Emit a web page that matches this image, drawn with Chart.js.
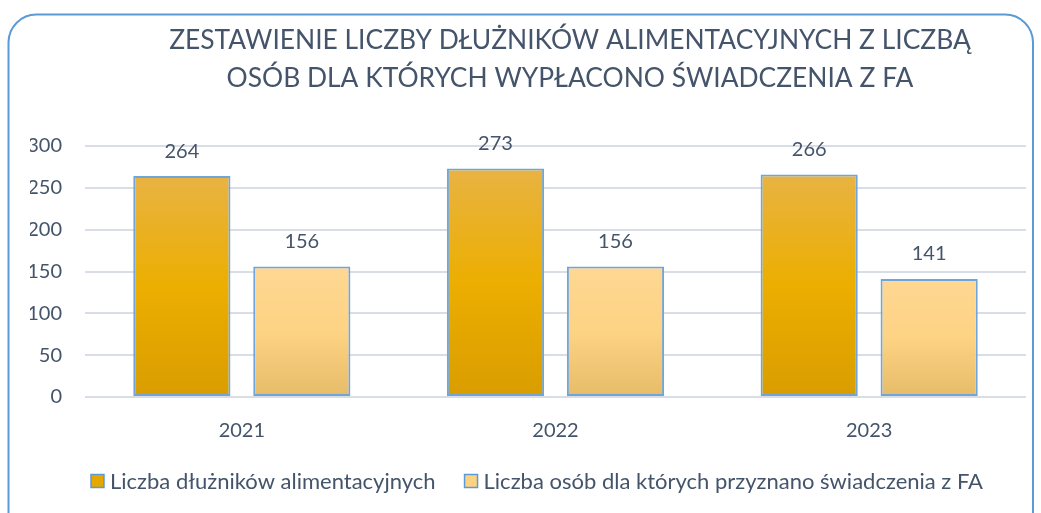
<!DOCTYPE html>
<html>
<head>
<meta charset="utf-8">
<script src="https://cdn.jsdelivr.net/npm/chart.js@4.4.1/dist/chart.umd.min.js"></script>
<style>
  html, body { margin: 0; padding: 0; background: #ffffff; }
  #wrap { position: relative; width: 1041px; height: 513px; }
</style>
</head>
<body>
<div id="wrap"><canvas id="c" width="1041" height="513"></canvas></div>
<script>
const titleLines = ['ZESTAWIENIE LICZBY DŁUŻNIKÓW ALIMENTACYJNYCH Z LICZBĄ', 'OSÓB DLA KTÓRYCH WYPŁACONO ŚWIADCZENIA Z FA'];
const categories = ['2021', '2022', '2023'];
const seriesNames = ['Liczba dłużników alimentacyjnych', 'Liczba osób dla których przyznano świadczenia z FA'];
const debtors = [264, 273, 266];
const beneficiaries = [156, 156, 141];
const yTicks = [0, 50, 100, 150, 200, 250, 300];

const TEXT = '#44546a';
const FONT = 'Lato, "Open Sans", sans-serif';
const stopsA = ['#e8b343', '#ecae00', '#d99d00'];
const stopsB = ['#fed792', '#fdd384', '#e6bc69'];
const solidA = '#e6a800';
const solidB = '#fdd282';

function barGradient(stops) {
  return function (ctx) {
    const chart = ctx.chart;
    if (!chart.chartArea || ctx.type !== 'data') return stops[1];
    const y = chart.scales.y;
    const top = y.getPixelForValue(ctx.raw);
    const bottom = y.getPixelForValue(0);
    if (!isFinite(top) || bottom - top < 1) return stops[1];
    const g = chart.ctx.createLinearGradient(0, top, 0, bottom);
    g.addColorStop(0, stops[0]);
    g.addColorStop(0.5, stops[1]);
    g.addColorStop(1, stops[2]);
    return g;
  };
}

const framePlugin = {
  id: 'frame',
  beforeDraw(chart) {
    const c = chart.ctx;
    c.save();
    c.strokeStyle = '#5b9bd5';
    c.lineWidth = 2;
    const x0 = 8.5, y0 = 14.5, x1 = 1033, y1 = 560, r = 28;
    c.beginPath();
    c.moveTo(x0, y1);
    c.lineTo(x0, y0 + r);
    c.arcTo(x0, y0, x0 + r, y0, r);
    c.lineTo(x1 - r, y0);
    c.arcTo(x1, y0, x1, y0 + r, r);
    c.lineTo(x1, y1);
    c.stroke();
    c.restore();
  }
};

const titlePlugin = {
  id: 'customTitle',
  afterDraw(chart) {
    const c = chart.ctx;
    c.save();
    c.fillStyle = TEXT;
    c.font = '26.4px ' + FONT;
    c.textAlign = 'center';
    c.textBaseline = 'alphabetic';
    c.fillText(titleLines[0], 570, 49);
    c.fillText(titleLines[1], 570, 87);
    c.restore();
  }
};

const valueLabels = {
  id: 'valueLabels',
  afterDatasetsDraw(chart) {
    const c = chart.ctx;
    c.save();
    c.fillStyle = TEXT;
    c.font = '20px ' + FONT;
    c.textAlign = 'center';
    c.textBaseline = 'middle';
    chart.data.datasets.forEach((ds, i) => {
      chart.getDatasetMeta(i).data.forEach((bar, j) => {
        c.fillText(String(ds.data[j]), bar.x, bar.y - 25);
      });
    });
    c.restore();
  }
};

const legendPlugin = {
  id: 'customLegend',
  afterDraw(chart) {
    const c = chart.ctx;
    c.save();
    c.font = '22px ' + FONT;
    c.textBaseline = 'middle';
    const box = 13, gapText = 6, gapItem = 29;
    const widths = seriesNames.map(n => c.measureText(n).width);
    const total = widths.reduce((a, w) => a + box + gapText + w, 0) + gapItem * (seriesNames.length - 1);
    let x = 537 - total / 2;
    const y = 481;
    const fills = [solidA, solidB];
    seriesNames.forEach((n, i) => {
      c.fillStyle = fills[i];
      c.fillRect(x, y - box / 2, box, box);
      c.strokeStyle = '#5b9bd5';
      c.lineWidth = 1.5;
      c.strokeRect(x, y - box / 2, box, box);
      c.fillStyle = TEXT;
      c.textAlign = 'left';
      c.fillText(n, x + box + gapText, y + 1);
      x += box + gapText + widths[i] + gapItem;
    });
    c.restore();
  }
};

new Chart(document.getElementById('c'), {
  type: 'bar',
  data: {
    labels: categories,
    datasets: [
      { label: seriesNames[0], data: debtors, backgroundColor: barGradient(stopsA), borderColor: '#6fa6da', borderWidth: 2, borderSkipped: false },
      { label: seriesNames[1], data: beneficiaries, backgroundColor: barGradient(stopsB), borderColor: '#6fa6da', borderWidth: 2, borderSkipped: false }
    ]
  },
  options: {
    responsive: false,
    animation: false,
    devicePixelRatio: 1,
    layout: { padding: { top: 146, left: 30, right: 15, bottom: 56 } },
    datasets: { bar: { categoryPercentage: 0.765, barPercentage: 0.81 } },
    plugins: {
      legend: { display: false },
      title: { display: false },
      tooltip: { enabled: false }
    },
    scales: {
      x: {
        grid: { display: false },
        border: { display: false },
        ticks: { color: TEXT, font: { family: FONT, size: 20 }, padding: 14 },
        afterFit(s) { s.height = 60; }
      },
      y: {
        min: 0, max: 300,
        afterBuildTicks(s) { s.ticks = yTicks.map(v => ({ value: v })); },
        grid: { color: '#d9dee6', lineWidth: 2, drawTicks: false },
        border: { display: false },
        ticks: { color: TEXT, font: { family: FONT, size: 20 }, padding: 23 },
        afterFit(s) { s.width = 55; }
      }
    }
  },
  plugins: [framePlugin, titlePlugin, valueLabels, legendPlugin]
});
</script>
</body>
</html>
